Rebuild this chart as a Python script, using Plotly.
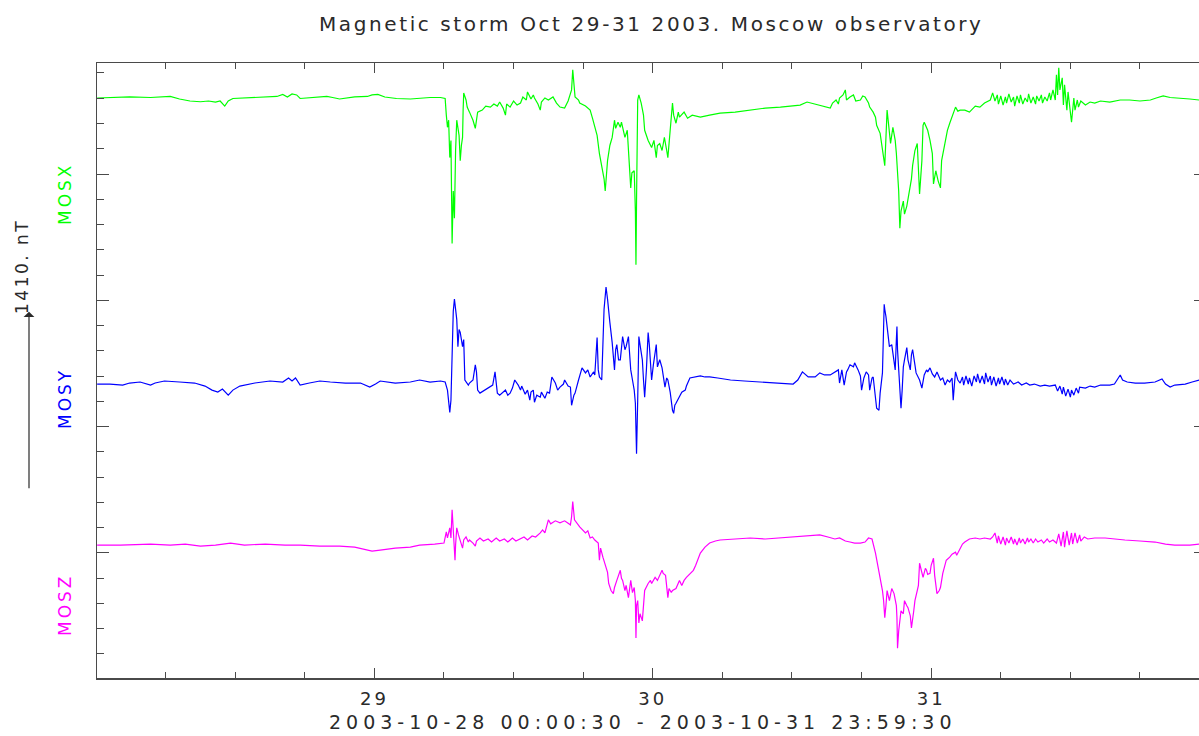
import plotly.graph_objects as go

# ---------------- data (time in hours since 2003-10-28 00:00, deviations in nT) -------------
X_HOURS = [
    0.1, 1.2, 2.9, 4.7, 6.4, 7.2, 8.1, 9.0, 9.7, 10.3,
    10.7, 11.1, 11.4, 11.8, 13.3, 14.6, 15.6, 16.1, 16.5, 16.9,
    17.3, 17.6, 18.9, 19.9, 20.4, 21.0, 22.3, 23.4, 23.8, 24.3,
    24.9, 25.9, 27.1, 27.9, 28.8, 29.7, 30.1,
    30.2, 30.3, 30.4, 30.5, 30.6, 30.7, 30.8, 30.9, 31.0, 31.1,
    31.3, 31.4, 31.5, 31.6, 31.65, 31.7, 31.9, 32.0, 32.2, 32.5,
    32.7, 32.8, 32.9, 33.3, 33.6, 34.0, 34.3, 34.6, 34.8, 35.1,
    35.3, 35.4, 35.7, 36.0, 36.3, 36.6, 36.8, 37.1, 37.2, 37.5,
    37.7, 37.8, 38.1, 38.3, 38.4, 38.7, 39.0, 39.4, 39.7, 40.0,
    40.4, 40.7, 40.9, 41.0, 41.1, 41.2, 41.3, 41.6, 41.7, 42.2,
    42.6, 42.8, 43.0, 43.2, 43.4, 43.6, 43.8, 43.9, 44.0, 44.1,
    44.3, 44.5, 44.7, 44.8, 45.0, 45.2, 45.3, 45.6, 45.8, 45.9,
    46.0, 46.1, 46.2, 46.4, 46.5, 46.55, 46.6, 46.7, 46.8, 47.0,
    47.2, 47.3, 47.6, 47.9, 48.1, 48.3, 48.4, 48.6, 48.8, 49.0,
    49.2, 49.3, 49.5, 49.7, 49.8, 50.0, 50.2, 50.3, 50.7, 51.0,
    51.4, 52.1, 52.9, 53.8, 55.1, 56.4, 57.7, 59.0, 59.8, 60.7,
    61.3, 61.9, 62.4, 62.9, 63.3, 63.5, 63.8, 64.0, 64.1, 64.4,
    64.6, 64.7, 65.0, 65.3, 65.5, 65.9, 66.1, 66.3, 66.6, 66.7,
    67.0, 67.2, 67.3, 67.6, 67.8, 68.0, 68.2, 68.4, 68.5, 68.7,
    68.9, 69.0, 69.2, 69.3,
    69.4, 69.6, 69.7, 69.9, 70.1, 70.3, 70.4, 70.6, 70.8, 70.9,
    71.0, 71.2, 71.3, 71.4, 71.6, 71.7, 71.9, 72.1, 72.2, 72.4,
    72.6, 72.8, 72.9, 73.2, 73.4, 73.6, 73.9, 74.1, 74.3, 74.5,
    74.9, 75.3, 75.8, 76.2, 76.6, 77.1, 77.3, 77.5,
    77.7, 77.8, 78.0, 78.2, 78.4, 78.5, 78.7, 78.9, 79.1, 79.2,
    79.4, 79.6, 79.7, 79.9, 80.1, 80.3, 80.4, 80.6, 80.8, 81.0,
    81.1, 81.3, 81.5, 81.6, 81.8, 82.0, 82.2, 82.3, 82.5, 82.7,
    82.8, 82.9, 83.0, 83.1, 83.3, 83.4, 83.5, 83.7, 83.8, 84.0,
    84.1, 84.3, 84.4, 84.6, 84.7, 84.9, 85.3, 85.7, 86.1, 86.6,
    87.4, 88.3, 89.1, 90.0, 90.9, 91.4, 92.0, 92.6, 93.4, 94.3,
    95.1,
]
X_NT = [
    0, 4, 8, 4, 12, -8, -24, -30, -24, -32,
    -24, -64, -24, -4, 4, 8, 12, 28, 8, 32,
    24, -4, 8, 12, 4, -8, 8, 12, 24, 28,
    8, -4, -8, 0, 4, 4, -4,
    -136, -232, -176, -472, -336, -1152, -736, -952, -416, -176,
    -296, -496, -376, -312, -96, 40, -16, -72, -112, -176,
    -240, -160, -112, -96, -64, -72, -48, -64, -32, -80,
    -136, -48, -72, -24, -56, -40, 8, -16, 48, -8,
    24, 0, -48, -96, -32, 0, -16, 8, -40, -72,
    -80, -24, 40, 64, 224, 80, 8, -16, -40, -64,
    -96, -160, -232, -296, -440, -536, -640, -736, -616, -496,
    -376, -312, -176, -240, -192, -232, -192, -312, -256, -416,
    -536, -712, -592, -576, -896, -1320, -816, -16, 24, -40,
    -136, -256, -336, -392, -336, -472, -376, -360, -416, -312,
    -416, -472, -256, -40, -136, -200, -112, -152, -112, -160,
    -136, -152, -136, -120, -112, -96, -80, -72, -64, -56,
    -32, -48, -56, -72, -80, -40, -16, -48, 0, 24,
    64, -16, 8, 24, -24, -16, 16, 8, -40, -72,
    -112, -152, -216, -280, -416, -536, -96, -296, -360, -232,
    -336, -440, -736, -1032,
    -896, -816, -920, -856, -736, -640, -536, -416, -360, -536,
    -760, -496, -216, -192, -232, -256, -336, -440, -680, -576,
    -656, -712, -496, -360, -256, -200, -112, -72, -104, -96,
    -96, -112, -64, -72, -40, -16, 40, -24,
    24, -48, 16, -56, 8, -40, 32, -32, 8, -64,
    16, -40, 24, -48, 0, -32, 32, -40, 8, -48,
    16, -24, 24, -40, 8, -24, 40, -16, 64, -16,
    184, 24, 240, 64, 160, -56, 104, -96, 48, -120,
    -192, 0, -96, -16, -72, -24, -56, -32, -40, -24,
    -32, -16, -16, -24, -16, 0, 16, 4, 0, -8,
    -16,
]

Y_HOURS = [
    0.1, 1.2, 2.3, 2.9, 3.8, 4.7, 5.1, 5.9, 7.2, 8.5,
    9.4, 10.0, 10.5, 10.9, 11.4, 11.8, 12.4, 13.7, 15.0, 16.1,
    16.6, 16.9, 17.2, 17.6, 18.4, 19.3, 20.2, 21.5, 22.8, 23.6,
    24.1, 24.5, 25.8, 27.1, 27.9, 28.8, 29.7, 30.1, 30.3, 30.4,
    30.5, 30.6, 30.8, 30.9, 31.0, 31.1, 31.2, 31.3, 31.4, 31.6,
    31.7, 31.8, 32.1, 32.2, 32.5, 32.7, 32.8, 32.9, 33.1, 33.5,
    34.0, 34.2, 34.4, 34.6, 34.8, 35.1, 35.3, 35.5, 35.7, 35.9,
    36.1, 36.4, 36.6, 36.7, 37.0, 37.2, 37.4, 37.5, 37.7, 37.8,
    38.0, 38.3, 38.4, 38.7, 38.9, 39.1, 39.3, 39.6, 39.8, 40.0,
    40.3, 40.4, 40.7, 40.9, 41.0, 41.2, 41.3, 41.6, 41.7, 41.9,
    42.2, 42.4, 42.6, 42.9, 43.0, 43.2, 43.3, 43.4, 43.6, 43.7,
    43.8, 43.97, 44.05, 44.1, 44.3, 44.5, 44.7, 44.8, 44.9, 45.05,
    45.2, 45.3, 45.4, 45.6, 45.7, 45.9, 46.0, 46.1, 46.25, 46.4,
    46.5, 46.55, 46.6, 46.7, 46.8, 46.9, 47.1, 47.2, 47.3, 47.45,
    47.6, 47.7, 47.8, 47.9, 48.05, 48.2, 48.3, 48.4, 48.6, 48.8,
    48.9, 49.05, 49.2, 49.3, 49.5, 49.7, 49.8, 49.9, 50.0, 50.2,
    50.3, 50.5, 50.8, 50.9, 51.2, 51.6, 52.1, 52.5, 52.9, 53.6,
    54.7, 55.9, 57.2, 58.5, 60.1, 60.5, 60.9, 61.4, 62.0, 62.4,
    62.8, 63.3, 63.7, 64.0, 64.1, 64.3, 64.5, 64.7, 64.8, 65.0,
    65.3, 65.4, 65.7, 65.9, 66.0, 66.2, 66.4, 66.6, 66.7, 66.9,
    67.0, 67.2, 67.3, 67.5, 67.6, 67.8, 67.9, 67.95, 68.0, 68.1,
    68.3, 68.4, 68.6, 68.7, 68.9, 69.0, 69.05, 69.1, 69.2, 69.3,
    69.4, 69.5, 69.6, 69.7, 69.9, 70.0, 70.2, 70.3, 70.4, 70.6,
    70.7, 71.0, 71.2, 71.4, 71.6, 71.7, 71.9, 72.1, 72.3, 72.5,
    72.8, 73.0, 73.2, 73.4, 73.6, 73.8, 73.9, 74.0, 74.1, 74.3,
    74.5, 74.7, 74.8, 75.0, 75.2, 75.3, 75.5, 75.7, 75.9, 76.0,
    76.2, 76.4, 76.6, 76.7, 76.9, 77.1, 77.2, 77.4, 77.6, 77.8,
    77.9, 78.1, 78.3, 78.4, 78.6, 78.8, 79.1, 79.5, 79.8, 80.2,
    80.5, 80.9, 81.4, 81.8, 82.2, 82.7, 82.9, 83.1, 83.3, 83.4,
    83.6, 83.8, 84.0, 84.1, 84.3, 84.5, 84.7, 84.8, 85.3, 85.7,
    86.1, 86.6, 87.4, 87.8, 88.3, 88.5, 88.9, 89.6, 90.4, 91.3,
    91.9, 92.2, 92.6, 93.0, 93.9, 94.5, 95.1,
]
Y_NT = [
    -8, -8, -16, 0, 8, -16, 0, 16, 8, 0,
    -24, -56, -72, -48, -96, -56, -24, 0, 16, 8,
    40, 16, 40, -16, 0, 16, 8, 0, 0, -32,
    -8, 16, 0, 8, 24, 8, 16, 8, -56, -176,
    -232, -136, 568, 664, 584, 504, 288, 424, 400, 288,
    344, 24, -16, 0, 24, 144, 88, -56, -80, -56,
    -32, -16, 88, -80, -96, -72, -56, -96, -80, -40,
    24, -16, -56, -24, -88, -56, -136, -72, -56, -152,
    -96, -112, -72, -120, -72, -80, 48, 0, -56, -32,
    -8, 24, -24, -32, -176, -96, -80, 24, 56, 120,
    80, 104, 48, 88, 64, 360, 104, 48, 24, 344,
    584, 760, 704, 664, 480, 320, 104, 264, 304, 184,
    184, 280, 368, 264, 288, 368, 224, 104, 24, -56,
    -160, -376, -560, -136, 368, 304, 184, 24, -112, 104,
    400, 304, 184, 24, 144, 248, 304, 128, 184, 120,
    64, -32, 40, 24, -72, -216, -240, -176, -160, -120,
    -112, -72, -56, -24, 40, 48, 56, 48, 48, 40,
    24, 16, 8, 0, -8, 24, 88, 48, 48, 80,
    64, 64, 88, 104, 0, 104, -16, 88, 104, 144,
    128, 160, 104, 56, -56, 40, 88, 64, -56, 40,
    48, -136, -200, -216, -80, 80, 424, 624, 584, 528,
    344, 288, 304, 240, 104, 344, 448, 264, 80, -56,
    -200, -56, 128, 184, 280, 184, 104, 224, 264, 144,
    80, 24, -40, 64, 104, 88, 120, 72, 48, 88,
    24, 40, -16, 24, 8, 40, -136, -16, 88, 24,
    0, 48, -16, 56, -8, 40, -24, 56, 8, 72,
    0, 56, -8, 80, 8, 56, -16, 48, -24, 40,
    -8, 48, -16, 32, -16, 24, -8, 8, -16, 0,
    -16, -8, -24, -16, -24, -16, -64, -24, -88, -32,
    -104, -48, -112, -56, -96, -40, -80, -32, -40, -24,
    -32, -16, -16, -8, 64, 24, 8, 0, 0, 8,
    32, -8, -32, -16, -8, 8, 24,
]

Z_HOURS = [
    0.1, 2.1, 4.7, 6.4, 7.7, 9.0, 10.3, 11.6, 12.8, 14.6,
    16.3, 17.6, 19.3, 21.0, 22.3, 23.2, 23.8, 24.5, 25.8, 27.1,
    27.9, 29.2, 30.0, 30.2, 30.3, 30.5, 30.6, 30.7, 30.8, 30.9,
    30.95, 31.0, 31.1, 31.25, 31.4, 31.6, 31.7, 31.9, 32.1, 32.2,
    32.5, 32.7, 32.8, 33.1, 33.4, 33.8, 34.1, 34.5, 34.8, 35.2,
    35.5, 35.9, 36.2, 36.6, 36.9, 37.2, 37.6, 37.9, 38.3, 38.5,
    38.7, 39.0, 39.2, 39.6, 40.0, 40.4, 40.9, 41.0, 41.1, 41.25,
    41.5, 41.7, 42.2, 42.4, 42.6, 42.8, 43.0, 43.3, 43.4, 43.5,
    43.7, 43.9, 44.1, 44.2, 44.4, 44.6, 44.7, 44.9, 45.05, 45.2,
    45.3, 45.4, 45.6, 45.7, 45.9, 46.0, 46.1, 46.25, 46.4, 46.5,
    46.55, 46.6, 46.7, 46.8, 46.9, 47.1, 47.2, 47.3, 47.6, 47.8,
    47.9, 48.2, 48.4, 48.6, 48.8, 48.9, 49.1, 49.3, 49.4, 49.6,
    49.7, 50.0, 50.2, 50.3, 50.5, 50.7, 50.9, 51.2, 51.5, 51.7,
    52.1, 52.5, 52.9, 53.4, 53.8, 55.1, 56.4, 57.7, 59.0, 60.3,
    61.6, 62.4, 63.1, 63.7, 64.1, 64.6, 65.0, 65.4, 65.9, 66.3,
    66.6, 66.9, 67.2, 67.4, 67.6, 67.8, 67.9, 68.0, 68.1, 68.2,
    68.4, 68.5, 68.6, 68.8, 69.0, 69.05, 69.1, 69.2, 69.3, 69.4,
    69.6, 69.7, 69.9, 70.0, 70.2, 70.3, 70.5, 70.6, 70.8, 70.9,
    71.0, 71.2, 71.3, 71.5, 71.6, 71.7, 71.9, 72.0, 72.2, 72.3,
    72.5, 72.7, 72.8, 73.0, 73.2, 73.3, 73.4, 73.6, 73.8, 74.1,
    74.2, 74.5, 74.7, 74.9, 75.3, 75.8, 76.2, 76.6, 77.1, 77.3,
    77.5, 77.7, 77.8, 78.0, 78.2, 78.4, 78.5, 78.7, 78.9, 79.1,
    79.2, 79.4, 79.6, 79.7, 79.9, 80.1, 80.3, 80.4, 80.6, 80.8,
    81.0, 81.2, 81.5, 81.7, 82.0, 82.2, 82.5, 82.8, 83.0, 83.2,
    83.4, 83.5, 83.7, 83.9, 84.1, 84.2, 84.4, 84.6, 84.8, 84.9,
    85.2, 85.5, 86.1, 87.0, 87.8, 88.7, 90.0, 91.3, 92.2, 93.0,
    94.3, 95.1,
]
Z_NT = [
    0, 0, 8, 0, 8, -8, 0, 16, 0, 8,
    0, 0, -8, -8, -16, -32, -48, -40, -24, -16,
    0, 8, 16, 104, 56, 136, 56, 280, 136, 40,
    -120, 0, 136, 80, 40, -24, 40, 64, 24, 40,
    16, -8, 32, 56, 32, 48, 24, 56, 32, 48,
    24, 56, 32, 48, 64, 40, 72, 64, 96, 120,
    96, 200, 168, 192, 176, 192, 160, 224, 344, 200,
    168, 144, 96, 112, 56, 64, 40, 16, -120, -24,
    -96, -160, -216, -304, -360, -384, -336, -280, -240, -200,
    -264, -280, -360, -320, -416, -320, -280, -376, -336, -440,
    -736, -480, -440, -616, -544, -600, -480, -360, -304, -280,
    -304, -256, -280, -240, -200, -224, -240, -416, -344, -376,
    -360, -344, -304, -280, -320, -280, -256, -224, -200, -160,
    -64, -16, 16, 32, 40, 48, 56, 48, 56, 64,
    72, 80, 64, 48, 56, 32, 24, 16, 16, 24,
    56, 48, -64, -160, -280, -360, -440, -576, -480, -360,
    -440, -376, -344, -384, -480, -576, -816, -680, -600, -520,
    -544, -440, -480, -496, -560, -656, -520, -440, -360, -320,
    -144, -216, -256, -184, -200, -232, -224, -160, -104, -240,
    -384, -360, -336, -224, -160, -120, -112, -96, -72, -56,
    -80, -24, 8, 24, 48, 56, 48, 56, 48, 64,
    96, 16, 72, 8, 64, 0, 56, 16, 64, 8,
    48, 0, 56, 16, 48, 8, 56, 24, 48, 16,
    48, 24, 40, 16, 48, 24, 40, 16, 88, -8,
    104, -16, 112, 0, 96, 8, 96, 16, 80, 32,
    64, 48, 56, 56, 48, 40, 32, 24, 8, 0,
    0, 8,
]

SERIES_NAMES = ["MOSX", "MOSY", "MOSZ"]
SERIES_OFFSETS_NT = [4602, 2345, 1062]   # vertical stacking offsets of the three components
DAY_TICK_HOURS = [24, 48, 72]
DAY_TICK_LABELS = ["29", "30", "31"]
QUARTER_TICK_HOURS = [6, 12, 18, 30, 36, 42, 54, 60, 66, 78, 84, 90]
SCALE_NT = 1410
SCALE_BASE_NT = 1500
TITLE = "Magnetic storm Oct 29-31 2003. Moscow observatory"
TIME_SPAN = "2003-10-28 00:00:30 - 2003-10-31 23:59:30"

COLORS = ["#00ff00", "#0000ff", "#ff00ff"]
AXIS_COLOR = "#4a4a4a"
TEXT_COLOR = "#2a2a2a"
FONT = "DejaVu Sans"

X_RANGE = [0.086, 95.09]
Y_RANGE = [9.4, 4879]

# body margin is removed in the page (see post_script), so figure pixels == page pixels
W, H = 1199, 736
ML, MR, MT, MB = 97, 0, 63, 58
PW, PH = W - ML - MR, H - MT - MB


def px_x(page_px):
    return (page_px - ML) / PW


def px_y(page_py):
    return (H - MB - page_py) / PH


def spaced(text, sp):
    return f'<span style="letter-spacing:{sp}px">{text}</span>'


fig = go.Figure()
series = [(X_HOURS, X_NT), (Y_HOURS, Y_NT), (Z_HOURS, Z_NT)]
for i, ((hrs, dev), name, off, col) in enumerate(zip(series, SERIES_NAMES, SERIES_OFFSETS_NT, COLORS)):
    fig.add_trace(go.Scatter(
        x=hrs, y=[off + v for v in dev], mode="lines", name=name,
        line=dict(color=col, width=1.2), yaxis="y2" if i == 2 else "y",
        showlegend=False, hoverinfo="skip",
    ))

fig.update_layout(
    width=W, height=H,
    margin=dict(l=ML, r=MR, t=MT, b=MB, pad=0),
    paper_bgcolor="white", plot_bgcolor="white",
    font=dict(family=FONT, color=TEXT_COLOR, size=17),
    xaxis=dict(
        range=X_RANGE, showgrid=False, zeroline=False,
        showline=True, linecolor=AXIS_COLOR, linewidth=1.5, mirror="ticks",
        ticks="inside", ticklen=10, tickwidth=1, tickcolor=AXIS_COLOR,
        tickvals=DAY_TICK_HOURS, ticktext=[spaced(t, 3) for t in DAY_TICK_LABELS],
        tickfont=dict(family=FONT, size=18, color=TEXT_COLOR),
        ticklabelstandoff=4,
        minor=dict(tickvals=QUARTER_TICK_HOURS, ticks="inside", ticklen=6,
                   tickwidth=1, tickcolor=AXIS_COLOR, showgrid=False),
    ),
    yaxis=dict(
        range=Y_RANGE, showgrid=False, zeroline=False,
        showline=True, linecolor=AXIS_COLOR, linewidth=1.5, mirror=False,
        ticks="inside", ticklen=12, tickwidth=1, tickcolor=AXIS_COLOR,
        tick0=0, dtick=1000, showticklabels=False,
        minor=dict(tick0=0, dtick=200, ticks="inside", ticklen=7,
                   tickwidth=1, tickcolor=AXIS_COLOR, showgrid=False),
    ),
    yaxis2=dict(
        range=Y_RANGE, overlaying="y", side="right", showgrid=False,
        zeroline=False, showline=False,
        ticks="inside", ticklen=5, tickwidth=1, tickcolor=AXIS_COLOR,
        tick0=0, dtick=1000, showticklabels=False,
    ),
)

ann = []
ann.append(dict(text=spaced(TITLE, 2.6),
                xref="paper", yref="paper", x=px_x(651), y=px_y(24),
                xanchor="center", yanchor="middle", showarrow=False,
                font=dict(family=FONT, size=20, color=TEXT_COLOR)))
ann.append(dict(text=spaced(TIME_SPAN, 5),
                xref="paper", yref="paper", x=px_x(643), y=px_y(722),
                xanchor="center", yanchor="middle", showarrow=False,
                font=dict(family=FONT, size=19, color=TEXT_COLOR)))
label_centers = [194, 399, 605]
for name, col, cy in zip(SERIES_NAMES, COLORS, label_centers):
    ann.append(dict(text=spaced(name, 3), xref="paper", yref="paper", x=px_x(65), y=px_y(cy),
                    xanchor="center", yanchor="middle", textangle=-90, showarrow=False,
                    font=dict(family=FONT, size=17, color=col)))
ann.append(dict(text=spaced(f"{SCALE_NT}. nT", 2.5), xref="paper", yref="paper",
                x=px_x(22), y=px_y(267),
                xanchor="center", yanchor="middle", textangle=-90, showarrow=False,
                font=dict(family=FONT, size=17, color=TEXT_COLOR)))
ann.append(dict(text="", xref="paper", yref="y", x=px_x(29), y=SCALE_BASE_NT + SCALE_NT,
                axref="pixel", ayref="y", ax=0, ay=SCALE_BASE_NT,
                showarrow=True, arrowhead=1, arrowsize=1.5, arrowwidth=1.2,
                arrowcolor=TEXT_COLOR))
fig.update_layout(annotations=ann)

fig.write_html("out.html",
               config={"displayModeBar": False, "staticPlot": True},
               post_script="document.body.style.margin='0';document.body.style.overflow='hidden';")
